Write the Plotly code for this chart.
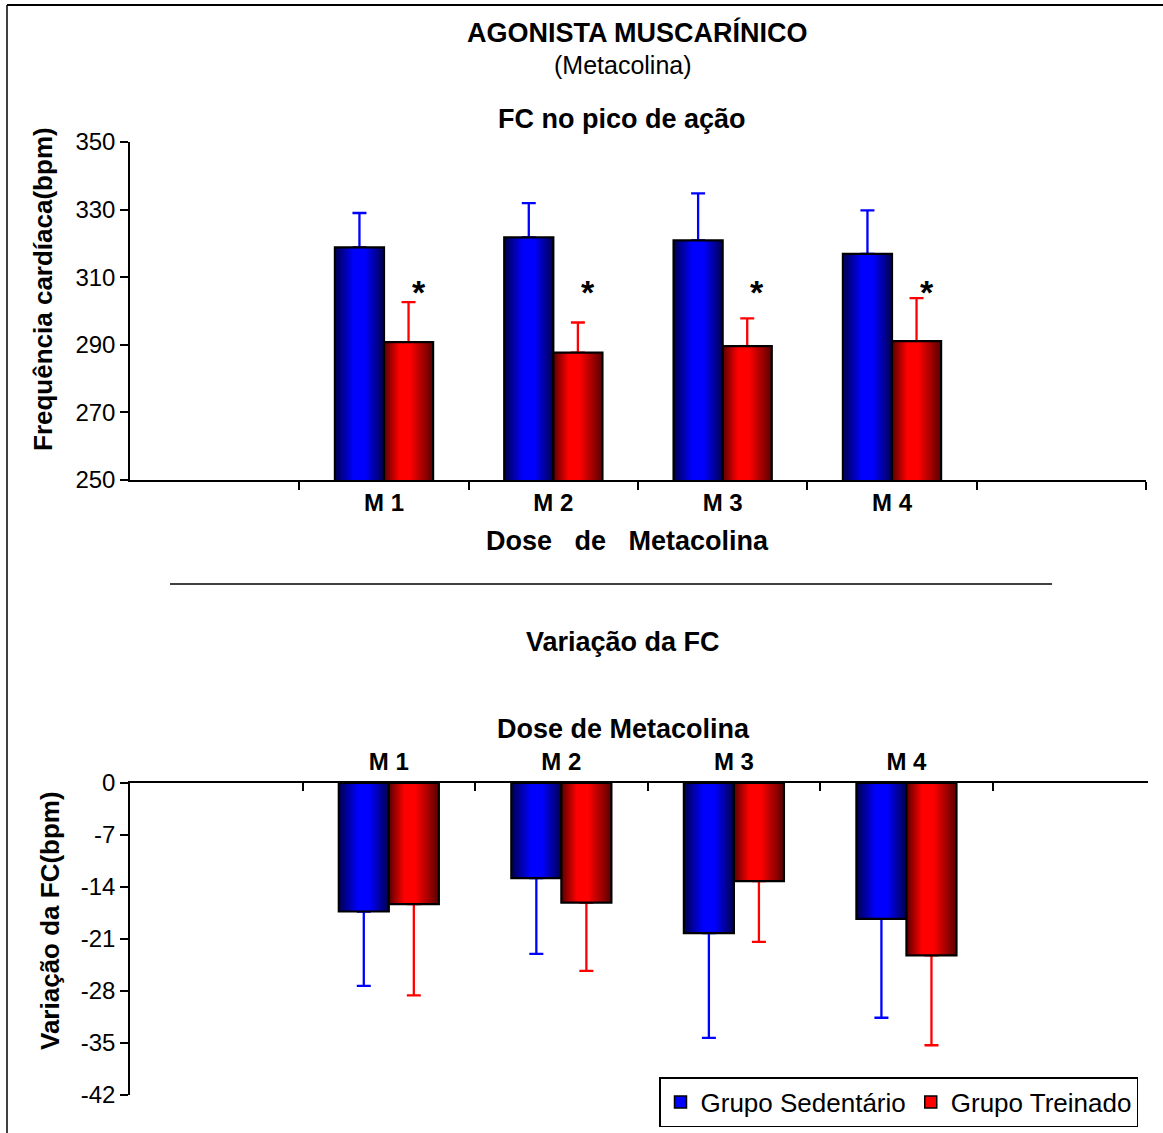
import plotly.graph_objects as go

# ---------------- data ----------------
categories = ["M 1", "M 2", "M 3", "M 4"]
series_names = ["Grupo Sedentário", "Grupo Treinado"]

fc_sed = [318.8, 321.8, 320.9, 316.9]
fc_sed_err = [10.2, 10.1, 13.9, 12.9]
fc_trn = [290.8, 287.7, 289.6, 291.1]
fc_trn_err = [11.8, 8.9, 8.2, 12.7]

var_sed = [-17.3, -12.8, -20.2, -18.3]
var_sed_err = [10.0, 10.2, 14.1, 13.3]
var_trn = [-16.3, -16.1, -13.2, -23.2]
var_trn_err = [12.3, 9.2, 8.2, 12.1]

sig_marks = ["*", "*", "*", "*"]
fc_ticks = [250, 270, 290, 310, 330, 350]
var_ticks = [0, -7, -14, -21, -28, -35, -42]

# ---------------- styling ----------------
W_PX, H_PX = 1163, 1133
FONT = "Liberation Sans, Arial, sans-serif"
BLUE_DARK, BLUE_BRIGHT = (0, 0, 85), (0, 0, 255)
RED_DARK, RED_BRIGHT = (95, 0, 0), (255, 0, 0)
BAR_W = 0.29
N_LAYERS = 14

xpos = [i + 1 for i in range(len(categories))]


def rgb(c):
    return "rgb(%d,%d,%d)" % c


def lerp(c1, c2, t):
    return tuple(round(a + (b - a) * t) for a, b in zip(c1, c2))


def px(x, y):
    return x / W_PX, 1 - y / H_PX


fig = go.Figure()


def add_series(xa, ya, vals, errs, offset, dark, bright, peak, upward):
    zeros = [0] * len(vals)
    for j in range(N_LAYERS):
        t = j / (N_LAYERS - 1)
        s = 0.75 * t
        col = rgb(lerp(dark, bright, t))
        kw = {}
        if j == 0:
            kw["error_y"] = dict(
                type="data", symmetric=False,
                array=errs if upward else zeros,
                arrayminus=zeros if upward else errs,
                color=rgb(bright), thickness=2.3, width=7,
            )
        fig.add_trace(go.Bar(
            x=xpos, y=vals, xaxis=xa, yaxis=ya,
            width=BAR_W * (1 - s), offset=offset + BAR_W * peak * s,
            marker=dict(color=col, line=dict(width=0)),
            showlegend=False, hoverinfo="skip", **kw))
    # outline on top
    fig.add_trace(go.Bar(
        x=xpos, y=vals, xaxis=xa, yaxis=ya, width=BAR_W, offset=offset,
        marker=dict(color="rgba(0,0,0,0)", line=dict(color="black", width=2.2)),
        showlegend=False, hoverinfo="skip"))


# top chart
add_series("x", "y", fc_sed, fc_sed_err, -BAR_W, BLUE_DARK, BLUE_BRIGHT, 0.5, True)
add_series("x", "y", fc_trn, fc_trn_err, 0.0, RED_DARK, RED_BRIGHT, 0.4, True)
# bottom chart
add_series("x2", "y2", var_sed, var_sed_err, -BAR_W, BLUE_DARK, BLUE_BRIGHT, 0.5, False)
add_series("x2", "y2", var_trn, var_trn_err, 0.0, RED_DARK, RED_BRIGHT, 0.4, False)

# legend entries
for name, col in zip(series_names, [BLUE_BRIGHT, RED_BRIGHT]):
    fig.add_trace(go.Bar(x=[None], y=[None], xaxis="x2", yaxis="y2", name=name,
                         marker=dict(color=rgb(col), line=dict(color="black", width=1.5))))

# significance marks
for xp, m in zip(xpos, sig_marks):
    fig.add_annotation(x=xp + BAR_W / 2 + 0.06, y=305.5, xref="x", yref="y", text=m,
                       showarrow=False, font=dict(size=34, family=FONT, color="black", weight="bold"))

axis_common = dict(showline=True, linecolor="black", linewidth=1.5, showgrid=False,
                   zeroline=False, fixedrange=True)

fig.update_layout(
    width=W_PX, height=H_PX,
    margin=dict(l=0, r=0, t=0, b=0, autoexpand=False),
    paper_bgcolor="white", plot_bgcolor="white",
    barmode="overlay",
    font=dict(family=FONT, color="black"),
    xaxis=dict(domain=[130 / W_PX, 1146 / W_PX], range=[-0.5, 5.5], anchor="y",
               tickvals=xpos, ticktext=categories, ticks="",
               tickfont=dict(size=24, family=FONT, weight="bold"), ticklabelstandoff=0,
               minor=dict(tickvals=[k + 0.5 for k in range(6)], ticks="outside",
                          ticklen=8, tickwidth=1.5, tickcolor="black"),
               **axis_common),
    yaxis=dict(domain=[1 - 480 / H_PX, 1 - 142 / H_PX], range=[250, 350], anchor="x",
               tickvals=fc_ticks, ticktext=[str(v) for v in fc_ticks],
               ticks="outside", ticklen=8, tickwidth=1.5, tickcolor="black",
               tickfont=dict(size=24, family=FONT), **axis_common),
    xaxis2=dict(domain=[130 / W_PX, 1148 / W_PX], range=[-0.5, 5.4], anchor="y2", side="top",
                tickvals=xpos, ticktext=categories, ticks="",
                tickfont=dict(size=24, family=FONT, weight="bold"), ticklabelstandoff=2,
                minor=dict(tickvals=[k + 0.5 for k in range(5)], ticks="inside",
                           ticklen=8, tickwidth=1.5, tickcolor="black"),
                **axis_common),
    yaxis2=dict(domain=[1 - 1095 / H_PX, 1 - 783 / H_PX], range=[-42, 0], anchor="x2",
                tickvals=var_ticks, ticktext=[str(v) for v in var_ticks],
                ticks="outside", ticklen=8, tickwidth=1.5, tickcolor="black",
                tickfont=dict(size=24, family=FONT), **axis_common),
    legend=dict(orientation="h", x=1138 / W_PX, xanchor="right", y=1 - 1077 / H_PX, yanchor="top",
                bordercolor="black", borderwidth=1.5, bgcolor="white",
                font=dict(size=26, family=FONT), itemwidth=30, traceorder="normal"),
)


def text(x, y, s, size, bold=True, angle=0):
    xp, yp = px(x, y)
    fig.add_annotation(x=xp, y=yp, xref="paper", yref="paper", text=s, showarrow=False,
                       textangle=angle, xanchor="center", yanchor="middle",
                       font=dict(size=size, family=FONT, color="black",
                                 weight="bold" if bold else "normal"))


text(637, 33, "AGONISTA MUSCARÍNICO", 27)
text(623, 65, "(Metacolina)", 25, bold=False)
text(622, 119, "FC no pico de ação", 27)
text(627, 541, "Dose&nbsp;&nbsp;&nbsp;de&nbsp;&nbsp;&nbsp;Metacolina", 27)
text(623, 642, "Variação da FC", 27)
text(623, 729, "Dose de Metacolina", 27)
text(43, 289, "Frequência cardíaca(bpm)", 26, angle=-90)
text(50, 921, "Variação da FC(bpm)", 26, angle=-90)

# separator and frame
fig.add_shape(type="line", xref="paper", yref="paper",
              x0=170 / W_PX, x1=1052 / W_PX, y0=1 - 584 / H_PX, y1=1 - 584 / H_PX,
              line=dict(color="black", width=1.5))
fig.add_shape(type="line", xref="paper", yref="paper",
              x0=7 / W_PX, x1=1, y0=1 - 5 / H_PX, y1=1 - 5 / H_PX,
              line=dict(color="black", width=2))
fig.add_shape(type="line", xref="paper", yref="paper",
              x0=7 / W_PX, x1=7 / W_PX, y0=0, y1=1 - 5 / H_PX,
              line=dict(color="black", width=1.5))

fig.write_html("out.html", config={"displayModeBar": False},
               post_script="document.body.style.margin='0';")
